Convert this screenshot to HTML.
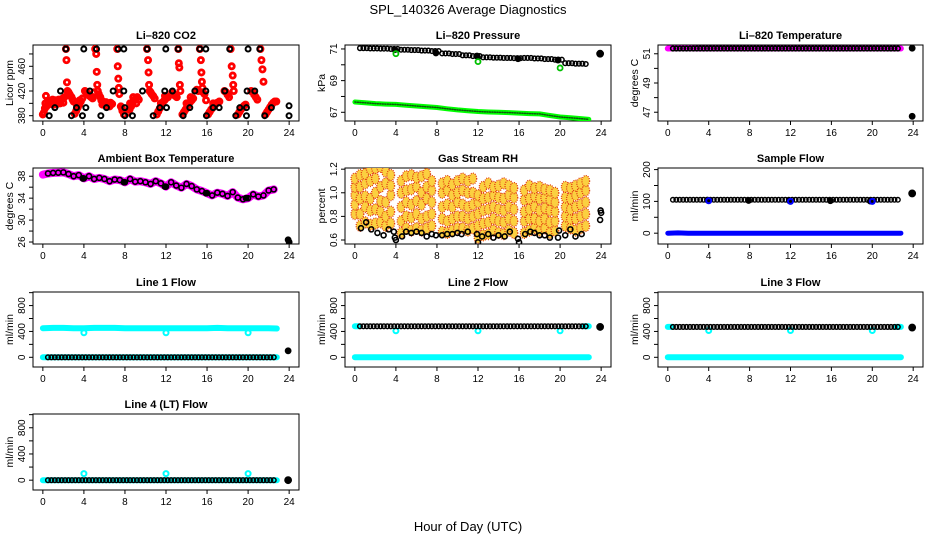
<!DOCTYPE html>
<html><head><meta charset="utf-8"><style>
html,body{margin:0;padding:0;background:#fff;}
svg{display:block;font-family:"Liberation Sans",Arial,sans-serif;}
</style></head><body>
<svg id="chart" width="936" height="540" viewBox="0 0 936 540" xmlns="http://www.w3.org/2000/svg">
<rect x="0" y="0" width="936" height="540" fill="#fff"/>
<text x="468" y="14" text-anchor="middle" font-size="13">SPL_140326  Average Diagnostics</text>
<text x="468" y="531" text-anchor="middle" font-size="13">Hour of Day (UTC)</text>
</svg>
<script>
// ---------- data ----------
const xTicks=[0,4,8,12,16,20,24];
const specialHours=[4,12,20];
const filledHours=[3.9,7.9,11.9,15.9,19.8];
// CO2
const co2BlackX=[2.24,3.99,5.23,7.34,7.89,10.16,11.98,13.18,15.29,15.88,18.21,20.0,21.14,
 1.72,4.58,6.85,7.89,9.71,11.88,12.63,14.81,15.88,17.73,19.9,20.65,
 1.17,3.28,4.19,6.2,7.99,11.4,12.05,14.32,16.59,17.18,19.19,19.84,22.27,23.99,
 0.62,2.79,3.86,5.65,7.99,8.73,10.75,13.67,15.94,18.8,19.84,21.62,23.99];
const co2BlackY=[488,488,488,488,488,488,488,488,488,488,488,488,488,
 420,420,420,420,420,420,420,420,420,420,420,420,
 393,393,393,393,393,393,393,393,393,393,393,393,393,396,
 380,380,380,380,380,380,380,380,380,380,380,380,380];
const co2RedPts=[[0,382],[0.1,385],[0.2,392],[0.25,400],[0.3,412],[0.35,395],
[0.5,404],[0.65,402],[0.8,404],[0.95,406],[1.1,403],[1.25,405],[1.4,404],[1.55,406],[1.7,404],[1.85,407],[2.0,408],[2.1,410],
[0.5,398],[0.8,399],[1.1,398],[1.4,399],[1.7,400],[2.0,401],
[2.25,488],[2.3,470],[2.35,434],[2.4,420],
[2.5,418],[2.6,415],[2.7,412],[2.8,410],[2.9,406],[3.0,403],
[3.1,383],[3.25,388],[3.4,393],[3.55,398],[3.7,403],[3.85,408],[3.3,398],[3.6,405],
[4.1,420],[4.25,418],[4.4,415],[4.55,412],[4.7,410],[4.85,408],
[5.1,488],[5.2,480],[5.25,451],[5.3,430],[5.35,420],
[5.0,418],[5.45,415],[5.6,410],
[5.7,405],[5.85,403],[6.0,400],[6.15,402],[6.3,400],[6.45,398],[6.6,401],[6.75,399],[5.8,398],[6.2,396],[6.5,395],
[7.25,488],[7.3,460],[7.35,440],[7.4,425],[7.45,415],
[7.6,395],[7.75,388],[7.9,382],[7.7,392],
[8.3,385],[8.45,390],[8.6,395],[8.75,400],[8.9,405],[9.05,408],[9.2,410],[9.35,406],[8.5,400],[8.8,410],[9.1,400],
[10.15,488],[10.25,470],[10.3,450],[10.35,430],[10.4,420],
[10.5,418],[10.6,415],[10.75,412],[10.9,408],
[11.1,382],[11.25,387],[11.4,392],[11.55,397],[11.7,402],[11.85,405],[12.0,408],[12.2,410],[11.5,400],[11.9,412],
[13.2,488],[13.25,465],[13.3,458],[13.35,430],[13.4,420],
[12.6,418],[12.75,415],[12.9,412],[13.05,410],
[13.6,382],[13.75,386],[13.9,390],[14.05,394],[14.2,398],[14.35,402],[14.5,405],[14.65,408],[14.0,400],[14.4,410],
[15.3,488],[15.4,470],[15.45,450],[15.5,435],[15.55,425],
[15.0,422],[15.15,420],[15.6,418],[15.75,415],[15.9,405],
[16.1,382],[16.25,386],[16.4,390],[16.55,393],[16.7,396],[16.85,399],[17.0,401],[17.2,403],[16.6,400],
[18.3,488],[18.4,460],[18.5,445],[18.55,430],[18.6,420],
[17.7,420],[17.85,418],[18.0,414],[18.15,410],
[19.0,382],[19.15,386],[19.3,390],[19.45,393],[19.6,396],[19.75,398],
[21.2,488],[21.3,470],[21.4,455],[21.5,435],
[20.3,420],[20.45,418],[20.6,414],[20.75,410],[20.9,406],
[21.7,382],[21.85,386],[22.0,390],[22.15,394],[22.3,398],[22.45,401],[22.6,403],[22.75,403]];
// Pressure (hourly 0..22)
const presBlack=[71.05,71.03,71.02,71.0,70.95,70.93,70.9,70.87,70.72,70.68,70.6,70.55,70.47,70.45,70.43,70.42,70.43,70.4,70.36,70.32,70.1,70.07,70.05];
const presFilled=[70.95,70.75,70.55,70.38,70.3];
const presGreen=[67.65,67.6,67.55,67.52,67.5,67.45,67.4,67.35,67.3,67.22,67.15,67.1,67.05,67.02,67.0,66.98,66.95,66.92,66.9,66.8,66.7,66.65,66.6,66.55];
const presGreenOut=[70.7,70.2,69.8];
const presLast=[70.7];
// Li-820 temperature
const tempMag=[51.36,51.38,51.38,51.36,51.36,51.36,51.36,51.36,51.36,51.36,51.36,51.36,51.36,51.36,51.36,51.36,51.36,51.36,51.36,51.36,51.36,51.36,51.36,51.36];
const tempBlack=[51.36,51.36,51.36,51.36,51.36,51.36,51.36,51.36,51.36,51.36,51.36,51.36,51.36,51.36,51.36,51.36,51.36,51.36,51.36,51.36,51.36,51.36,51.36];
const tempLast=[51.38,46.72];
// Ambient (every 0.5 h)
const ambMag=[38.3,38.5,38.6,38.65,38.7,38.4,38.0,38.2,37.6,38.0,37.5,37.7,37.5,37.1,37.4,37.3,36.9,37.5,37.0,37.1,36.9,36.6,37.1,36.7,36.1,36.9,36.3,35.9,36.6,36.2,35.6,35.3,34.9,34.5,35.0,34.8,34.4,35.1,34.1,33.8,34.0,34.7,34.3,34.5,35.4,35.6];
const ambFilled=[37.6,36.9,36.1,34.9,34.0];
const ambLast=[26.4,26.0];
// RH (every 0.5 h columns)
const rhHours=[0,0.5,1,1.5,2,2.5,3,3.5,4.5,5,5.5,6,6.5,7,7.5,8.5,9,9.5,10,10.5,11,11.5,12,12.5,13,13.5,14,14.5,15,15.5,16.5,17,17.5,18,18.5,19,19.5,20.5,21,21.5,22,22.5];
const rhCloud=[[0.82,0.9,0.98,1.05,1.12],[0.72,0.82,0.95,1.05,1.15],[0.75,0.88,0.97,1.08,1.16],[0.73,0.85,0.95,1.1,1.2],[0.74,0.86,1.0,1.12,1.21],[0.75,0.84,0.93,1.05,1.22],[0.72,0.8,0.92,1.08,1.18],[0.74,0.84,0.98,1.06,1.15],
[0.66,0.76,0.88,1.0,1.1],[0.7,0.8,0.92,1.02,1.14],[0.68,0.79,0.9,1.03,1.15],[0.7,0.82,0.93,1.05,1.13],[0.68,0.78,0.9,1.0,1.14],[0.7,0.8,0.95,1.05,1.16],[0.72,0.82,0.92,1.02,1.1],
[0.67,0.78,0.88,1.0,1.08],[0.66,0.76,0.9,1.02,1.1],[0.68,0.78,0.88,0.98,1.07],[0.7,0.8,0.92,1.0,1.1],[0.7,0.8,0.9,1.02,1.12],[0.68,0.78,0.88,1.0,1.1],[0.7,0.8,0.9,1.0,1.12],
[0.62,0.72,0.82,0.92,0.98],[0.64,0.74,0.85,0.95,1.05],[0.65,0.75,0.86,0.96,1.08],[0.68,0.78,0.88,0.98,1.05],[0.66,0.76,0.86,0.96,1.06],[0.65,0.75,0.85,0.95,1.08],[0.68,0.78,0.88,0.98,1.06],[0.66,0.76,0.86,0.96,1.04],
[0.66,0.76,0.84,0.94,1.02],[0.68,0.78,0.86,0.95,1.06],[0.7,0.78,0.88,0.97,1.04],[0.68,0.76,0.85,0.95,1.05],[0.7,0.78,0.87,0.96,1.03],[0.66,0.75,0.85,0.94,1.02],[0.68,0.76,0.84,0.92,1.0],
[0.72,0.8,0.88,0.96,1.05],[0.7,0.78,0.86,0.95,1.04],[0.68,0.78,0.88,0.98,1.06],[0.7,0.8,0.9,1.0,1.08],[0.72,0.82,0.92,1.02,1.1]];
const rhBlackX=[0.6,1.1,1.6,2.2,2.8,3.3,3.8,3.9,4.0,4.6,5.0,5.5,6.0,6.5,7.0,7.5,7.9,8.5,9.0,9.5,10.0,10.4,11.0,11.9,12.0,12.4,13.0,13.5,14.0,14.6,15.1,15.9,16.0,16.6,17.1,17.5,18.0,18.5,19.0,19.8,19.9,20.5,21.0,21.5,22.1,23.9,23.95,24];
const rhBlackY=[0.7,0.75,0.69,0.66,0.64,0.69,0.67,0.62,0.6,0.63,0.67,0.66,0.67,0.66,0.63,0.65,0.64,0.64,0.65,0.65,0.66,0.65,0.67,0.65,0.58,0.63,0.65,0.62,0.64,0.63,0.67,0.61,0.58,0.65,0.67,0.66,0.64,0.64,0.62,0.62,0.68,0.64,0.69,0.63,0.65,0.77,0.85,0.83];
// Sample flow
const sampBlack=[105,105,105,105,105,105,105,105,105,105,105,105,105,105,105,105,105,105,105,105,105,105,105];
const sampFilled=[104,103,102,102,101];
const sampBlue=[0,1,0,0,0,0,0,0,0,0,0,0,0,0,0,0,0,0,0,0,0,0,0,0];
const sampBlueOut=[102,100,100];
const sampLast=[125];
// Line flows
const l1Cyan=[450,455,455,450,450,455,455,455,450,450,450,450,450,450,450,450,450,455,450,450,450,450,450,445];
const l1CyanLow=[0,0,0,0,0,0,0,0,0,0,0,0,0,0,0,0,0,0,0,0,0,0,0,0];
const l1Black=[0,0,0,0,0,0,0,0,0,0,0,0,0,0,0,0,0,0,0,0,0,0,0];
const l1Dips=[380,380,380]; const l1Last=[100];
const l2Black=[480,480,480,480,480,480,480,480,480,480,480,480,480,480,480,480,480,480,480,480,480,480,480];
const l2CyanLow=[0,0,0,0,0,0,0,0,0,0,0,0,0,0,0,0,0,0,0,0,0,0,0,0];
const l2CyanEnds=[480,480]; const l2Dips=[410,410,410]; const l2Last=[470];
const l3Black=[470,470,470,470,470,470,470,470,470,470,470,470,470,470,470,470,470,470,470,470,470,470,470];
const l3CyanLow=[0,0,0,0,0,0,0,0,0,0,0,0,0,0,0,0,0,0,0,0,0,0,0,0];
const l3CyanEnds=[470,470]; const l3Dips=[415,415,415]; const l3Last=[460];
const l4Black=[0,0,0,0,0,0,0,0,0,0,0,0,0,0,0,0,0,0,0,0,0,0,0];
const l4CyanLow=[0,0,0,0,0,0,0,0,0,0,0,0,0,0,0,0,0,0,0,0,0,0,0,0];
const l4Out=[100,100,100]; const l4Last=[0];

// ---------- drawing ----------
const NS='http://www.w3.org/2000/svg';
const svg=document.getElementById('chart');
function mk(parent,tag,attrs,name){
  const el=document.createElementNS(NS,tag);
  for(const k in attrs) el.setAttribute(k,attrs[k]);
  
  
  parent.appendChild(el); return el;
}
const cols=[[33,299],[345,611],[658,923]];
const rows=[[45,121],[168,244],[292,367],[414,490]];
function panel(id,col,row,title,ylab,ymin,ymax,ticks,labels){
  const g=mk(svg,'g',{},id+'-panel');
  const [L,R]=cols[col],[T,B]=rows[row];
  const sx=h=>L+(h+0.96)/25.92*(R-L);
  const sy=v=>B-(v-ymin)/(ymax-ymin)*(B-T);
  mk(g,'rect',{x:L,y:T,width:R-L,height:B-T,fill:'none',stroke:'#000','stroke-width':1},id+'-plot-box');
  const t=mk(g,'text',{x:(L+R)/2,y:T-6,'text-anchor':'middle','font-size':11,'font-weight':'bold'},id+'-title'); t.textContent=title;
  xTicks.forEach(h=>{
    mk(g,'line',{x1:sx(h),x2:sx(h),y1:B,y2:B+4,stroke:'#000'},id+'-x-tick');
    const tl=mk(g,'text',{x:sx(h),y:B+15,'text-anchor':'middle','font-size':10},id+'-x-tick-label'); tl.textContent=h;
  });
  ticks.forEach(v=>{
    mk(g,'line',{x1:L-4,x2:L,y1:sy(v),y2:sy(v),stroke:'#000'},id+'-y-tick');
  });
  labels.forEach(v=>{
    const yl=mk(g,'text',{x:0,y:0,'text-anchor':'middle','font-size':10,transform:`translate(${L-8},${sy(v)}) rotate(-90)`},id+'-y-tick-label'); yl.textContent=v;
  });
  const yt=mk(g,'text',{x:0,y:0,'text-anchor':'middle','font-size':10.5,transform:`translate(${L-20},${(T+B)/2}) rotate(-90)`},id+'-y-axis-title'); yt.textContent=ylab;
  const cp=mk(g,'clipPath',{id:id+'-clip'},id+'-clip');
  mk(cp,'rect',{x:L,y:T,width:R-L,height:B-T},id+'-clip-rect');
  const data=mk(g,'g',{'clip-path':`url(#${id}-clip)`},id+'-series');
  return {g:data,sx,sy,id};
}
function pts(p,xs,ys,color,name,opts={}){
  xs.forEach((x,i)=>{
    mk(p.g,'circle',{cx:p.sx(x),cy:p.sy(ys[i]),r:opts.r||2.5,fill:opts.fill||'none',stroke:color,'stroke-width':opts.w||1.8},name);
  });
}
function band(p,xs,ys,color,w,name,dash){
  const d=xs.map((x,i)=>(i?'L':'M')+p.sx(x).toFixed(1)+' '+p.sy(ys[i]).toFixed(1)).join(' ');
  const a={d:d,fill:'none',stroke:color,'stroke-width':w,'stroke-linecap':'round','stroke-linejoin':'round'};
  if(dash) a['stroke-dasharray']=dash;
  mk(p.g,'path',a,name);
}
function subX(vals,start){const xs=[],ys=[];vals.forEach((v,h)=>{for(let k=0;k<3;k++){const t=h+k/3+start;if(t<=22.6){xs.push(t);ys.push(v);}}});return [xs,ys];}
const hourX=n=>Array.from({length:n},(_,i)=>i<23?i:22.8);

// 1 CO2
let p=panel('co2',0,0,'Li\u2013820 CO2','Licor ppm',371.4,494.5,[380,400,420,440,460,480],[380,420,460]);
co2RedPts.forEach(q=>{
  mk(p.g,'circle',{cx:p.sx(q[0]),cy:p.sy(q[1]),r:2.6,fill:'none',stroke:'#ff0000','stroke-width':2.8},'co2-red-point');
});
pts(p,co2BlackX,co2BlackY,'#000','co2-black-point',{w:2});

// 2 Pressure
p=panel('pressure',1,0,'Li\u2013820 Pressure','kPa',66.45,71.25,[67,68,69,70,71],[67,69,71]);
band(p,hourX(presGreen.length),presGreen,'#00ff00',5,'pressure-green-band');
band(p,hourX(presGreen.length),presGreen,'#115511',1.5,'pressure-green-dots','1 1.5');
let s=subX(presBlack,0.5); pts(p,s[0],s[1],'#000','pressure-black-point',{r:2.3,w:1.5});
pts(p,filledHours,presFilled,'#000','pressure-filled-point',{fill:'#000'});
pts(p,specialHours,presGreenOut,'#00c000','pressure-green-outlier');
pts(p,[23.9],presLast,'#000','pressure-last-point',{fill:'#000',r:3});

// 3 Li-820 temperature
p=panel('li-temp',2,0,'Li\u2013820 Temperature','degrees C',46.4,51.6,[47,48,49,50,51],[47,49,51]);
band(p,hourX(tempMag.length),tempMag,'#ff00ff',6,'li-temp-magenta-band');
s=subX(tempBlack,0.5); pts(p,s[0],s[1],'#000','li-temp-black-point',{r:2.3,w:1.6});
pts(p,[23.9,23.9],tempLast,'#000','li-temp-last-point',{fill:'#000'});

// 4 Ambient
p=panel('ambient',0,1,'Ambient Box Temperature','degrees C',25.64,39.5,[26,28,30,32,34,36,38],[26,30,34,38]);
const ambX=ambMag.map((v,i)=>i*0.5);
band(p,ambX,ambMag,'#ff00ff',8,'ambient-magenta-line');
pts(p,ambX.slice(1),ambMag.slice(1),'#000','ambient-black-point',{r:2.5,w:1.6});
pts(p,filledHours,ambFilled,'#000','ambient-filled-point',{fill:'#000'});
pts(p,[23.9,24],ambLast,'#000','ambient-last-point',{fill:'#000'});

// 5 RH
p=panel('rh',1,1,'Gas Stream RH','percent',0.566,1.21,[0.6,0.8,1.0,1.2],['0.6','0.8','1.0','1.2']);
rhHours.forEach((h,i)=>{rhCloud[i].forEach(v=>{
  mk(p.g,'ellipse',{cx:p.sx(h),cy:p.sy(v),rx:3.8,ry:5.5,fill:'#fbd040',stroke:'#e03a10','stroke-width':1.3,'stroke-dasharray':'1 1.2'},'rh-cloud-point');
});});
pts(p,rhBlackX,rhBlackY,'#000','rh-black-point',{r:2.5,w:1.6});

// 6 Sample flow
p=panel('sample-flow',2,1,'Sample Flow','ml/min',-34,205,[0,50,100,150,200],[0,100,200]);
band(p,hourX(sampBlue.length),sampBlue,'#0000ff',5,'sample-flow-blue-band');
s=subX(sampBlack,0.5); pts(p,s[0],s[1],'#000','sample-flow-black-point',{r:2.3,w:1.4});
pts(p,filledHours,sampFilled,'#000','sample-flow-filled-point',{fill:'#000'});
pts(p,specialHours,sampBlueOut,'#0000ff','sample-flow-blue-outlier',{w:2});
pts(p,[23.9],sampLast,'#000','sample-flow-last-point',{fill:'#000',r:3});

const flowTicks=[0,200,400,600,800,1000], flowLabels=[0,400,800];
// 7 Line 1
p=panel('line1',0,2,'Line 1 Flow','ml/min',-150,1010,flowTicks,flowLabels);
band(p,hourX(l1Cyan.length),l1Cyan,'#00ffff',6,'line1-cyan-band');
band(p,hourX(l1CyanLow.length),l1CyanLow,'#00ffff',6,'line1-cyan-low-band');
pts(p,specialHours,l1Dips,'#00ffff','line1-cyan-dip',{w:2});
s=subX(l1Black,0.5); pts(p,s[0],s[1],'#000','line1-black-point',{r:2.3,w:1.5});
pts(p,[23.9],l1Last,'#000','line1-last-point',{fill:'#000'});

// 8 Line 2
p=panel('line2',1,2,'Line 2 Flow','ml/min',-150,1010,flowTicks,flowLabels);
band(p,hourX(l2CyanLow.length),l2CyanLow,'#00ffff',6,'line2-cyan-low-band');
band(p,[0,0.4],l2CyanEnds,'#00ffff',6,'line2-cyan-start');
band(p,[22.3,22.8],l2CyanEnds,'#00ffff',6,'line2-cyan-end');
pts(p,specialHours,l2Dips,'#00ffff','line2-cyan-dip',{w:2});
s=subX(l2Black,0.5); pts(p,s[0],s[1],'#000','line2-black-point',{r:2.3,w:1.5});
pts(p,[23.9],l2Last,'#000','line2-last-point',{fill:'#000',r:3});

// 9 Line 3
p=panel('line3',2,2,'Line 3 Flow','ml/min',-150,1010,flowTicks,flowLabels);
band(p,hourX(l3CyanLow.length),l3CyanLow,'#00ffff',6,'line3-cyan-low-band');
band(p,[0,0.4],l3CyanEnds,'#00ffff',6,'line3-cyan-start');
band(p,[22.3,22.8],l3CyanEnds,'#00ffff',6,'line3-cyan-end');
pts(p,specialHours,l3Dips,'#00ffff','line3-cyan-dip',{w:2});
s=subX(l3Black,0.5); pts(p,s[0],s[1],'#000','line3-black-point',{r:2.3,w:1.5});
pts(p,[23.9],l3Last,'#000','line3-last-point',{fill:'#000',r:3});

// 10 Line 4
p=panel('line4',0,3,'Line 4 (LT) Flow','ml/min',-150,1010,flowTicks,flowLabels);
band(p,hourX(l4CyanLow.length),l4CyanLow,'#00ffff',6,'line4-cyan-low-band');
pts(p,specialHours,l4Out,'#00ffff','line4-cyan-outlier',{w:2});
s=subX(l4Black,0.5); pts(p,s[0],s[1],'#000','line4-black-point',{r:2.3,w:1.5});
pts(p,[23.9],l4Last,'#000','line4-last-point',{fill:'#000',r:3});
</script>
</body></html>
